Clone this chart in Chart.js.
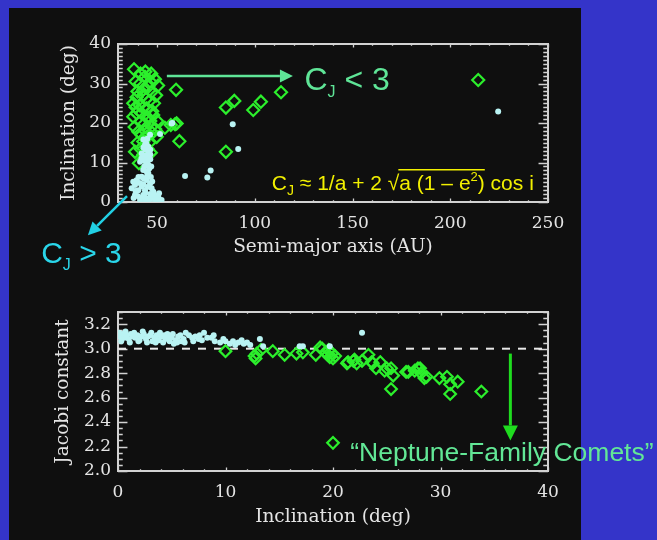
<!DOCTYPE html>
<html>
<head>
<meta charset="utf-8">
<script src="https://cdn.jsdelivr.net/npm/chart.js@4.4.0/dist/chart.umd.min.js"></script>
<style>
  html, body { margin: 0; padding: 0; }
  body { width: 657px; height: 540px; background: #3434c9; position: relative; overflow: hidden; }
  #panel { position: absolute; left: 9px; top: 8px; width: 572px; height: 532px; background: #0f0f0f; }
  .plot { position: absolute; left: 0; width: 657px; height: 270px; }
  #topWrap { top: 0; }
  #botWrap { top: 270px; }
</style>
</head>
<body>
<div id="panel"></div>
<div class="plot" id="topWrap"><canvas id="orbitChart" width="657" height="270"></canvas></div>
<div class="plot" id="botWrap"><canvas id="jacobiChart" width="657" height="270"></canvas></div>
<script>
// tick labels
const orbitXTicks = [50, 100, 150, 200, 250];
const orbitYTicks = [0, 10, 20, 30, 40];
const jacobiXTicks = [0, 10, 20, 30, 40];
const jacobiYTicks = [2.0, 2.2, 2.4, 2.6, 2.8, 3.0, 3.2];

// top panel: semi-major axis (AU) vs inclination (deg)
const coldA = [57.4, 57.8, 51.5, 46.4, 43.8, 45.5, 44.0, 45.5, 42.1, 46.5, 44.7, 43.0, 41.3, 45.5, 47.0,
  42.9, 44.5, 45.5, 42.1, 46.8, 44.7, 37.8, 38.7, 46.4, 42.1, 43.8, 47.2, 40.4, 48.1, 38.7, 42.9, 45.5,
  50.6, 52.3, 41.3, 48.9, 44.0, 46.5, 43.0, 44.5, 49.5, 37.0, 39.5, 44.0, 64.3, 77.4, 75.7, 88.7, 91.5, 224.5,
  41.5, 43.5, 46.0, 47.5, 40.0, 39.0, 41.0, 43.0, 45.0, 46.0, 43.5, 42.0, 44.0, 45.0, 46.5, 43.0, 44.5,
  45.0, 43.0, 42.5, 44.0, 45.0, 47.5, 48.5, 50.0, 51.0, 38.0, 40.5, 46.5];
const coldInc = [19.9, 20.0, 17.2, 17.0, 14.4, 14.0, 13.3, 12.7, 12.3, 12.0, 11.0, 10.6, 10.2, 9.4, 9.0,
  8.1, 7.8, 7.3, 6.4, 6.3, 5.6, 5.1, 4.3, 4.7, 3.9, 3.0, 3.5, 3.0, 2.6, 1.8, 1.8, 0.9,
  1.3, 0.5, 0.5, 0.5, 0.3, 2.0, 4.5, 9.8, 0.3, 3.5, 5.5, 15.5, 6.6, 8.0, 6.2, 19.7, 13.4, 22.9,
  1.0, 1.2, 0.6, 1.2, 1.5, 2.8, 4.8, 6.0, 6.8, 8.5, 9.0, 11.0, 11.8, 10.2, 10.8, 13.8, 14.8,
  16.0, 15.8, 4.5, 2.3, 3.8, 5.2, 1.8, 0.8, 2.2, 1.0, 6.3, 13.2];

const hotA = [38.2, 41.5, 43.8, 48.9, 46.5, 50.5, 41.3, 45.5, 43.0, 40.0, 47.0, 59.7, 42.9, 39.5, 44.5,
  46.0, 48.4, 37.8, 41.0, 43.0, 44.7, 47.5, 39.5, 42.0, 48.0, 37.8, 45.0, 46.5, 41.3, 43.5, 47.2, 49.0,
  44.0, 40.4, 47.5, 42.0, 44.7, 49.8, 42.9, 46.0, 45.0, 41.5, 43.0, 38.7, 40.7, 54.0, 57.0, 59.2, 60.0,
  61.4, 85.2, 89.5, 99.2, 103.1, 113.4, 85.2, 214.3,
  39.0, 44.0, 47.0, 38.5, 40.0, 46.8, 39.0, 49.5, 50.0];
const hotInc = [33.6, 32.5, 31.7, 31.1, 30.5, 29.5, 30.0, 29.2, 28.5, 28.0, 27.8, 28.4, 27.1, 26.5, 26.2,
  25.5, 25.0, 25.0, 24.5, 24.0, 23.7, 23.0, 22.5, 22.5, 22.0, 21.6, 21.5, 20.5, 20.3, 19.8, 19.1, 18.5,
  18.0, 17.8, 17.5, 17.0, 16.5, 16.5, 15.3, 15.0, 13.5, 13.5, 12.0, 12.7, 9.8, 18.8, 19.5, 19.7, 19.9,
  15.4, 23.9, 25.6, 23.3, 25.4, 27.8, 12.7, 30.9,
  30.5, 33.0, 32.5, 19.0, 15.0, 12.5, 24.0, 27.0, 20.5];

// bottom panel: inclination (deg) vs Jacobi constant
const coldJInc = [0.1, 0.2, 0.4, 0.6, 0.8, 1.0, 1.2, 1.4, 1.6, 1.8, 2.0, 2.2, 2.4, 2.6, 2.8, 3.0, 3.2,
  3.4, 3.6, 3.8, 4.0, 4.2, 4.4, 4.6, 4.8, 5.0, 5.2, 5.4, 5.6, 5.9, 6.1, 6.3, 6.6, 6.9, 7.2, 7.5, 7.8,
  8.0, 8.3, 8.7, 9.0, 9.5, 10.0, 10.4, 10.7, 11.2, 11.7, 12.3, 13.2, 13.5, 16.9, 17.2, 19.7, 22.7,
  0.3, 0.7, 1.1, 1.5, 1.9, 2.3, 2.7, 3.1, 3.5, 3.9, 4.3, 4.7, 5.1, 5.5, 5.8, 6.2, 7.0, 7.6, 8.9,
  9.8, 10.9, 11.5, 12.0];
const coldJC = [3.13, 3.10, 3.12, 3.09, 3.11, 3.08, 3.12, 3.10, 3.09, 3.11, 3.07, 3.10, 3.12, 3.08, 3.10,
  3.11, 3.06, 3.09, 3.11, 3.07, 3.10, 3.05, 3.08, 3.12, 3.06, 3.09, 3.04, 3.07, 3.10, 3.06, 3.08, 3.13,
  3.11, 3.09, 3.10, 3.08, 3.07, 3.13, 3.09, 3.09, 3.06, 3.05, 3.06, 3.04, 3.06, 3.05, 3.04, 3.03, 3.08,
  3.02, 3.02, 3.02, 3.02, 3.13,
  3.06, 3.14, 3.05, 3.13, 3.06, 3.14, 3.05, 3.13, 3.05, 3.13, 3.11, 3.09, 3.12, 3.05, 3.11, 3.05, 3.06,
  3.11, 3.11, 3.08, 3.03, 3.07, 3.05];

const hotJInc = [10.0, 12.8, 12.9, 13.3, 12.7, 14.4, 15.5, 16.6, 17.2, 18.4, 18.8, 19.0, 19.3, 19.5, 19.6,
  19.7, 19.9, 20.0, 20.2, 21.3, 21.4, 21.9, 22.0, 22.2, 22.7, 23.3, 23.6, 23.7, 24.0, 24.4, 24.8, 25.0,
  25.4, 25.6, 25.4, 26.8, 27.0, 27.6, 27.9, 28.1, 28.2, 28.5, 28.7, 29.9, 30.6, 30.9, 31.6, 30.9, 33.8, 20.0];
const hotJC = [2.98, 2.92, 2.96, 2.99, 2.94, 2.98, 2.95, 2.96, 2.97, 2.95, 3.01, 3.00, 2.97, 2.95, 2.99,
  2.93, 2.96, 2.92, 2.94, 2.88, 2.89, 2.90, 2.91, 2.88, 2.90, 2.95, 2.89, 2.88, 2.84, 2.89, 2.82, 2.84,
  2.84, 2.78, 2.67, 2.81, 2.81, 2.82, 2.84, 2.84, 2.80, 2.76, 2.77, 2.76, 2.77, 2.71, 2.73, 2.63, 2.65, 2.23];

const jacobiLimit = 3.0;

const cyanDot = '#b9f3f3';
const greenDiamond = '#2cef2c';
const mint = '#5fe597';
const frameColor = '#d2d2d2';
const labelColor = '#e4e4e4';

const zip = (xs, ys) => xs.map((v, i) => ({ x: v, y: ys[i] }));

// IDL-style box with inward major/minor ticks on all four sides
const idlFrame = {
  id: 'idlFrame',
  beforeDatasetsDraw(chart, args, opts) {
    const { ctx, chartArea: a, scales: { x, y } } = chart;
    const w = a.right - a.left, h = a.bottom - a.top;
    const isMajor = (v, list) => list.some(m => Math.abs(m - v) < 1e-6);
    ctx.save();
    ctx.strokeStyle = frameColor;
    ctx.lineWidth = 1.3;
    ctx.beginPath();
    const nx = Math.round((x.max - x.min) / opts.xMinor);
    for (let k = 0; k <= nx; k++) {
      const v = x.min + k * opts.xMinor;
      const len = (isMajor(v, opts.xMajor) ? 0.022 : 0.011) * h;
      const px = Math.round(x.getPixelForValue(v)) + 0.5;
      ctx.moveTo(px, a.bottom); ctx.lineTo(px, a.bottom - len);
      ctx.moveTo(px, a.top); ctx.lineTo(px, a.top + len);
    }
    const ny = Math.round((y.max - y.min) / opts.yMinor);
    for (let k = 0; k <= ny; k++) {
      const v = y.min + k * opts.yMinor;
      const len = (isMajor(v, opts.yMajor) ? 0.022 : 0.011) * w;
      const py = Math.round(y.getPixelForValue(v)) + 0.5;
      ctx.moveTo(a.left, py); ctx.lineTo(a.left + len, py);
      ctx.moveTo(a.right, py); ctx.lineTo(a.right - len, py);
    }
    ctx.stroke();
    ctx.lineWidth = 2;
    ctx.strokeRect(a.left, a.top, w, h);
    ctx.restore();
  }
};

function arrow(ctx, x0, y0, x1, y1, color, width, headLen, headHalf) {
  const ang = Math.atan2(y1 - y0, x1 - x0);
  const bx = x1 - headLen * Math.cos(ang), by = y1 - headLen * Math.sin(ang);
  ctx.strokeStyle = color;
  ctx.lineWidth = width;
  ctx.beginPath(); ctx.moveTo(x0, y0); ctx.lineTo(bx, by); ctx.stroke();
  ctx.fillStyle = color;
  ctx.beginPath();
  ctx.moveTo(x1, y1);
  ctx.lineTo(bx + headHalf * Math.sin(ang), by - headHalf * Math.cos(ang));
  ctx.lineTo(bx - headHalf * Math.sin(ang), by + headHalf * Math.cos(ang));
  ctx.closePath();
  ctx.fill();
}

// writes runs of text left to right; each run is [text, size, baseline shift]
function textRuns(ctx, x, y, runs, color) {
  ctx.fillStyle = color;
  ctx.textAlign = 'left';
  ctx.textBaseline = 'alphabetic';
  const marks = [];
  for (const [s, size, dy] of runs) {
    ctx.font = size + 'px "Liberation Sans", Arial, sans-serif';
    ctx.fillText(s, x, y + (dy || 0));
    x += ctx.measureText(s).width;
    marks.push(x);
  }
  return marks;
}

function axisOpts(min, max, ticks, title, size, fmt, horizontal) {
  return {
    type: 'linear',
    min: min, max: max,
    grid: { display: false, drawTicks: false },
    border: { display: false },
    afterBuildTicks: s => { s.ticks = ticks.map(v => ({ value: v })); },
    afterFit: s => {
      if (horizontal) { s.height = size; s.paddingLeft = 0; s.paddingRight = 0; }
      else { s.width = size; s.paddingTop = 0; s.paddingBottom = 0; }
    },
    ticks: {
      color: labelColor,
      autoSkip: false,
      maxRotation: 0,
      padding: horizontal ? 11 : 7,
      font: { family: 'DejaVu Serif', size: 17 },
      callback: fmt
    },
    title: {
      display: true,
      text: title,
      color: labelColor,
      font: { family: 'DejaVu Serif', size: 18.5 },
      padding: horizontal ? { top: 0, bottom: 1 } : { top: 0, bottom: 0 }
    }
  };
}

const commonOpts = {
  responsive: false,
  animation: false,
  events: [],
  plugins: { legend: { display: false }, tooltip: { enabled: false } }
};

const topNotes = {
  id: 'topNotes',
  afterDraw(chart) {
    const { ctx, scales: { x, y } } = chart;
    ctx.save();
    // C_J < 3 arrow and label
    arrow(ctx, x.getPixelForValue(55), y.getPixelForValue(31.9),
      x.getPixelForValue(119.5), y.getPixelForValue(31.9), mint, 2.5, 13, 6.5);
    textRuns(ctx, x.getPixelForValue(125.4), y.getPixelForValue(28.4),
      [['C', 32], ['J', 16, 7], [' < 3', 32]], mint);
    // C_J > 3 arrow and label
    arrow(ctx, x.getPixelForValue(34.6), y.getPixelForValue(1.5),
      x.getPixelForValue(14.6), y.getPixelForValue(-8.4), '#22d0e4', 2.5, 13, 6.5);
    textRuns(ctx, x.getPixelForValue(-9.3), y.getPixelForValue(-15.4),
      [['C', 30], ['J', 16, 7], [' > 3', 30]], '#2ad6ea');
    // Tisserand-style formula
    const fy = y.getPixelForValue(3.0);
    const fx = x.getPixelForValue(108.7);
    const m = textRuns(ctx, fx, fy, [['C', 21], ['J', 14, 5], [' \u2248 1/a + 2 ', 21], ['\u221A', 21],
      ['a (1 \u2013 e', 21], ['2', 13, -9], [')', 21], [' cos i', 21]], '#f2f000');
    ctx.strokeStyle = '#f2f000';
    ctx.lineWidth = 1.5;
    ctx.beginPath();
    ctx.moveTo(m[3] - 1, fy - 20.5);
    ctx.lineTo(m[6], fy - 20.5);
    ctx.stroke();
    ctx.restore();
  }
};

const bottomNotes = {
  id: 'bottomNotes',
  afterDraw(chart) {
    const { ctx, scales: { x, y } } = chart;
    ctx.save();
    arrow(ctx, x.getPixelForValue(36.5), y.getPixelForValue(2.96),
      x.getPixelForValue(36.5), y.getPixelForValue(2.25), '#1fdc1f', 3, 15, 7.5);
    textRuns(ctx, x.getPixelForValue(21.6), y.getPixelForValue(2.083),
      [['\u201CNeptune-Family Comets\u201D', 26.5]], '#62e796');
    ctx.restore();
  }
};

new Chart(document.getElementById('orbitChart'), {
  type: 'scatter',
  data: {
    datasets: [
      {
        data: zip(coldA, coldInc), pointStyle: 'circle', pointRadius: 3,
        backgroundColor: cyanDot, borderWidth: 0, order: 0
      },
      {
        data: zip(hotA, hotInc), pointStyle: 'rectRot', pointRadius: 6,
        borderColor: greenDiamond, backgroundColor: 'rgba(0,0,0,0)', borderWidth: 2.2, order: 1
      }
    ]
  },
  options: Object.assign({}, commonOpts, {
    layout: { padding: { left: 58, right: 109, top: 44, bottom: 11 } },
    scales: {
      x: axisOpts(30, 250, orbitXTicks, 'Semi-major axis (AU)', 57, v => String(v), true),
      y: axisOpts(0, 40, orbitYTicks, 'Inclination (deg)', 60, v => String(v), false)
    },
    plugins: Object.assign({}, commonOpts.plugins, {
      idlFrame: { xMinor: 10, yMinor: 1, xMajor: orbitXTicks, yMajor: orbitYTicks }
    })
  }),
  plugins: [idlFrame, topNotes]
});

new Chart(document.getElementById('jacobiChart'), {
  type: 'scatter',
  data: {
    datasets: [
      {
        data: zip(coldJInc, coldJC), pointStyle: 'circle', pointRadius: 3,
        backgroundColor: cyanDot, borderWidth: 0, order: 0
      },
      {
        data: zip(hotJInc, hotJC), pointStyle: 'rectRot', pointRadius: 5.8,
        borderColor: greenDiamond, backgroundColor: 'rgba(0,0,0,0)', borderWidth: 2.2, order: 1
      },
      {
        data: [{ x: 0, y: jacobiLimit }, { x: 40, y: jacobiLimit }], showLine: true,
        borderColor: '#e8e8e8', borderWidth: 2, borderDash: [8, 8], pointRadius: 0, order: 2
      }
    ]
  },
  options: Object.assign({}, commonOpts, {
    layout: { padding: { left: 52, right: 109, top: 42, bottom: 11 } },
    scales: {
      x: axisOpts(0, 40, jacobiXTicks, 'Inclination (deg)', 58, v => String(v), true),
      y: axisOpts(2.0, 3.3, jacobiYTicks, 'Jacobi constant', 66, v => v.toFixed(1), false)
    },
    plugins: Object.assign({}, commonOpts.plugins, {
      idlFrame: { xMinor: 2, yMinor: 0.05, xMajor: jacobiXTicks, yMajor: jacobiYTicks }
    })
  }),
  plugins: [idlFrame, bottomNotes]
});
</script>
</body>
</html>
